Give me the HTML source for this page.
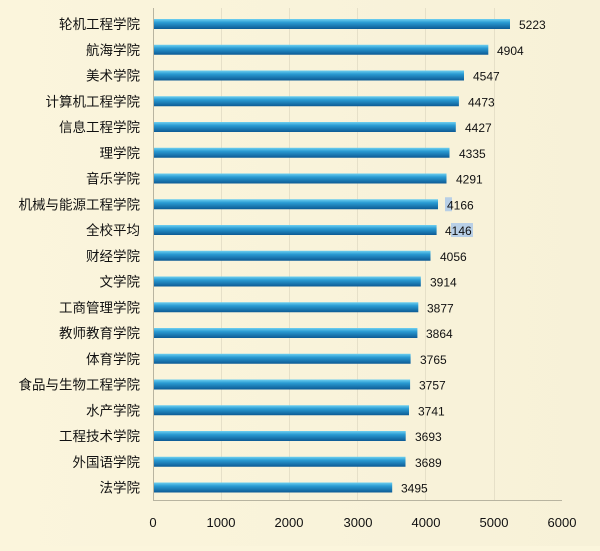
<!DOCTYPE html><html><head><meta charset="utf-8"><style>
body{margin:0;background:#fbf5dc}
text{font-family:"Liberation Sans","Noto Sans CJK SC",sans-serif;fill:#111}
.l{font-size:13.5px;text-anchor:end}
.v{font-size:12px}
</style></head><body>
<svg width="600" height="546" xmlns="http://www.w3.org/2000/svg">
<defs><linearGradient id="g" x1="0" y1="0" x2="0" y2="1">
<stop offset="0" stop-color="#6fd0f0"/><stop offset="0.35" stop-color="#2a9bd3"/><stop offset="1" stop-color="#0d5a94"/></linearGradient>
<linearGradient id="bg" x1="0" y1="0" x2="1" y2="0"><stop offset="0" stop-color="#fbf5dc"/><stop offset="1" stop-color="#f7f1d8"/></linearGradient></defs>
<rect width="600" height="546" fill="url(#bg)"/>
<g stroke="#e6e0c8" stroke-width="1"><line x1="221.5" y1="8" x2="221.5" y2="500"/><line x1="289.5" y1="8" x2="289.5" y2="500"/><line x1="357.5" y1="8" x2="357.5" y2="500"/><line x1="425.5" y1="8" x2="425.5" y2="500"/><line x1="494.5" y1="8" x2="494.5" y2="500"/></g>
<line x1="153.5" y1="8" x2="153.5" y2="500" stroke="#b8b4a0"/>
<line x1="153" y1="500.5" x2="562" y2="500.5" stroke="#b8b4a0"/>

<g transform="translate(0,24)"><rect x="154" y="-5" width="356.0" height="10" fill="url(#g)"/><text class="l" x="140" y="5">轮机工程学院</text><text class="v" x="519" y="5">5223</text></g>
<g transform="translate(0,49.75)"><rect x="154" y="-5" width="334.3" height="10" fill="url(#g)"/><text class="l" x="140" y="5">航海学院</text><text class="v" x="497" y="5">4904</text></g>
<g transform="translate(0,75.5)"><rect x="154" y="-5" width="310.0" height="10" fill="url(#g)"/><text class="l" x="140" y="5">美术学院</text><text class="v" x="473" y="5">4547</text></g>
<g transform="translate(0,101.25)"><rect x="154" y="-5" width="304.9" height="10" fill="url(#g)"/><text class="l" x="140" y="5">计算机工程学院</text><text class="v" x="468" y="5">4473</text></g>
<g transform="translate(0,127)"><rect x="154" y="-5" width="301.8" height="10" fill="url(#g)"/><text class="l" x="140" y="5">信息工程学院</text><text class="v" x="465" y="5">4427</text></g>
<g transform="translate(0,152.75)"><rect x="154" y="-5" width="295.5" height="10" fill="url(#g)"/><text class="l" x="140" y="5">理学院</text><text class="v" x="459" y="5">4335</text></g>
<g transform="translate(0,178.5)"><rect x="154" y="-5" width="292.5" height="10" fill="url(#g)"/><text class="l" x="140" y="5">音乐学院</text><text class="v" x="456" y="5">4291</text></g>
<g transform="translate(0,204.25)"><rect x="154" y="-5" width="284.0" height="10" fill="url(#g)"/><text class="l" x="140" y="5">机械与能源工程学院</text><rect x="445" y="-7" width="7" height="14" fill="#b8cfe6"/><text class="v" x="447" y="5">4166</text></g>
<g transform="translate(0,230)"><rect x="154" y="-5" width="282.6" height="10" fill="url(#g)"/><text class="l" x="140" y="5">全校平均</text><rect x="451" y="-7" width="22" height="14" fill="#b8cfe6"/><text class="v" x="445" y="5">4146</text></g>
<g transform="translate(0,255.75)"><rect x="154" y="-5" width="276.5" height="10" fill="url(#g)"/><text class="l" x="140" y="5">财经学院</text><text class="v" x="440" y="5">4056</text></g>
<g transform="translate(0,281.5)"><rect x="154" y="-5" width="266.8" height="10" fill="url(#g)"/><text class="l" x="140" y="5">文学院</text><text class="v" x="430" y="5">3914</text></g>
<g transform="translate(0,307.25)"><rect x="154" y="-5" width="264.3" height="10" fill="url(#g)"/><text class="l" x="140" y="5">工商管理学院</text><text class="v" x="427" y="5">3877</text></g>
<g transform="translate(0,333)"><rect x="154" y="-5" width="263.4" height="10" fill="url(#g)"/><text class="l" x="140" y="5">教师教育学院</text><text class="v" x="426" y="5">3864</text></g>
<g transform="translate(0,358.75)"><rect x="154" y="-5" width="256.6" height="10" fill="url(#g)"/><text class="l" x="140" y="5">体育学院</text><text class="v" x="420" y="5">3765</text></g>
<g transform="translate(0,384.5)"><rect x="154" y="-5" width="256.1" height="10" fill="url(#g)"/><text class="l" x="140" y="5">食品与生物工程学院</text><text class="v" x="419" y="5">3757</text></g>
<g transform="translate(0,410.25)"><rect x="154" y="-5" width="255.0" height="10" fill="url(#g)"/><text class="l" x="140" y="5">水产学院</text><text class="v" x="418" y="5">3741</text></g>
<g transform="translate(0,436)"><rect x="154" y="-5" width="251.7" height="10" fill="url(#g)"/><text class="l" x="140" y="5">工程技术学院</text><text class="v" x="415" y="5">3693</text></g>
<g transform="translate(0,461.75)"><rect x="154" y="-5" width="251.5" height="10" fill="url(#g)"/><text class="l" x="140" y="5">外国语学院</text><text class="v" x="415" y="5">3689</text></g>
<g transform="translate(0,487.5)"><rect x="154" y="-5" width="238.2" height="10" fill="url(#g)"/><text class="l" x="140" y="5">法学院</text><text class="v" x="401" y="5">3495</text></g>

<g font-size="13" text-anchor="middle">
<text x="153" y="527">0</text><text x="221" y="527">1000</text><text x="289" y="527">2000</text><text x="358" y="527">3000</text><text x="426" y="527">4000</text><text x="494" y="527">5000</text><text x="562" y="527">6000</text></g>
</svg></body></html>
